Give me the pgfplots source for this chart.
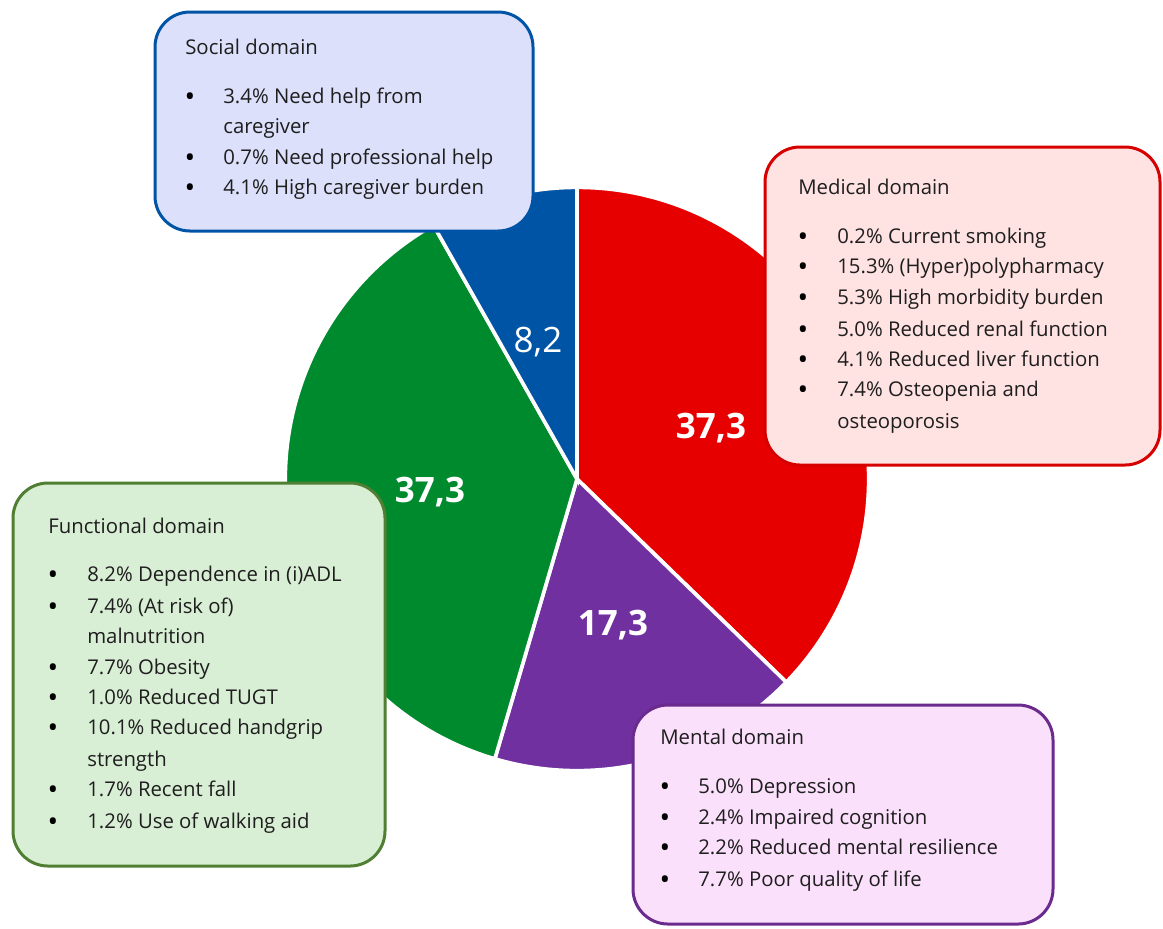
\documentclass[border=0pt]{standalone}
\usepackage{pgfplots}
\pgfplotsset{compat=1.18}
\usepackage{fontspec}
\setmainfont{Open Sans}
\definecolor{pieRed}{RGB}{230,0,0}
\definecolor{piePurple}{RGB}{112,48,160}
\definecolor{pieGreen}{RGB}{0,138,46}
\definecolor{pieBlue}{RGB}{0,84,166}
\definecolor{socFill}{RGB}{220,224,250}
\definecolor{socDraw}{RGB}{0,84,166}
\definecolor{medFill}{RGB}{255,226,226}
\definecolor{medDraw}{RGB}{214,0,0}
\definecolor{funFill}{RGB}{217,239,213}
\definecolor{funDraw}{RGB}{80,126,50}
\definecolor{menFill}{RGB}{251,224,251}
\definecolor{menDraw}{RGB}{106,42,142}
\definecolor{txt}{RGB}{30,30,30}
\tikzset{
  bt/.style={anchor=mid west, inner sep=0pt, text=txt, yshift=-1.2pt, font=\fontsize{12.2}{14}\selectfont},
  bu/.style={anchor=center, inner sep=0pt, text=black, yshift=-1.6pt, font=\fontsize{17}{18}\selectfont},
  pl/.style={anchor=center, inner sep=0pt, text=white},
}
\begin{document}
\begin{tikzpicture}
% pie values (percent)
\def\vMed{37.3}\def\vMen{17.3}\def\vFun{37.3}\def\vSoc{8.2}
\pgfmathsetmacro\tot{\vMed+\vMen+\vFun+\vSoc}
\pgfmathsetmacro\aA{90-360*\vMed/\tot}
\pgfmathsetmacro\aB{\aA-360*\vMen/\tot}
\pgfmathsetmacro\aC{\aB-360*\vFun/\tot}
\pgfmathsetmacro\aD{\aC-360*\vSoc/\tot}
\def\R{175pt}
\begin{axis}[scale only axis, width=697.8pt, height=556.8pt,
  xmin=0, xmax=1163, ymin=0, ymax=928, y dir=reverse, hide axis,
]
\path (axis cs:0,0) rectangle (axis cs:1163,928);
% pie sectors
\filldraw[fill=pieRed, draw=white, line width=2.2pt] (axis cs:577,479) -- ++(90:\R) arc[start angle=90, end angle=\aA, radius=\R] -- cycle;
\filldraw[fill=piePurple, draw=white, line width=2.2pt] (axis cs:577,479) -- ++(\aA:\R) arc[start angle=\aA, end angle=\aB, radius=\R] -- cycle;
\filldraw[fill=pieGreen, draw=white, line width=2.2pt] (axis cs:577,479) -- ++(\aB:\R) arc[start angle=\aB, end angle=\aC, radius=\R] -- cycle;
\filldraw[fill=pieBlue, draw=white, line width=2.2pt] (axis cs:577,479) -- ++(\aC:\R) arc[start angle=\aC, end angle=\aD, radius=\R] -- cycle;
\node[pl, font=\fontsize{21}{25}\selectfont\bfseries] at (axis cs:711,428) {37,3};
\node[pl, font=\fontsize{21}{25}\selectfont\bfseries] at (axis cs:430,492) {37,3};
\node[pl, font=\fontsize{21}{25}\selectfont\bfseries] at (axis cs:613,625) {17,3};
\node[pl, font=\fontsize{21}{25}\selectfont] at (axis cs:538,342) {8,2};
% Social box
\draw[rounded corners=21pt, line width=1.8pt, draw=socDraw, fill=socFill] (axis cs:155,12) rectangle (axis cs:533,231);
\node[bt] at (axis cs:185,48) {Social domain};
\node[bu] at (axis cs:190,97) {•};\node[bt] at (axis cs:223,97) {3.4\% Need help from};
\node[bt] at (axis cs:223,127) {caregiver};
\node[bu] at (axis cs:190,158) {•};\node[bt] at (axis cs:223,158) {0.7\% Need professional help};
\node[bu] at (axis cs:190,188) {•};\node[bt] at (axis cs:223,188) {4.1\% High caregiver burden};
% Medical box
\draw[rounded corners=21pt, line width=1.8pt, draw=medDraw, fill=medFill] (axis cs:765,147) rectangle (axis cs:1160,465);
\node[bt] at (axis cs:798,188) {Medical domain};
\node[bu] at (axis cs:803,237) {•};\node[bt] at (axis cs:837,237) {0.2\% Current smoking};
\node[bu] at (axis cs:803,267) {•};\node[bt] at (axis cs:837,267) {15.3\% (Hyper)polypharmacy};
\node[bu] at (axis cs:803,298) {•};\node[bt] at (axis cs:837,298) {5.3\% High morbidity burden};
\node[bu] at (axis cs:803,330) {•};\node[bt] at (axis cs:837,330) {5.0\% Reduced renal function};
\node[bu] at (axis cs:803,360) {•};\node[bt] at (axis cs:837,360) {4.1\% Reduced liver function};
\node[bu] at (axis cs:803,390) {•};\node[bt] at (axis cs:837,390) {7.4\% Osteopenia and};
\node[bt] at (axis cs:837,422) {osteoporosis};
% Functional box
\draw[rounded corners=21pt, line width=1.8pt, draw=funDraw, fill=funFill] (axis cs:13,483) rectangle (axis cs:385,866);
\node[bt] at (axis cs:48,527) {Functional domain};
\node[bu] at (axis cs:53,575) {•};\node[bt] at (axis cs:87,575) {8.2\% Dependence in (i)ADL};
\node[bu] at (axis cs:53,607) {•};\node[bt] at (axis cs:87,607) {7.4\% (At risk of)};
\node[bt] at (axis cs:87,637) {malnutrition};
\node[bu] at (axis cs:53,668) {•};\node[bt] at (axis cs:87,668) {7.7\% Obesity};
\node[bu] at (axis cs:53,698) {•};\node[bt] at (axis cs:87,698) {1.0\% Reduced TUGT};
\node[bu] at (axis cs:53,728) {•};\node[bt] at (axis cs:87,728) {10.1\% Reduced handgrip};
\node[bt] at (axis cs:87,760) {strength};
\node[bu] at (axis cs:53,790) {•};\node[bt] at (axis cs:87,790) {1.7\% Recent fall};
\node[bu] at (axis cs:53,822) {•};\node[bt] at (axis cs:87,822) {1.2\% Use of walking aid};
% Mental box
\draw[rounded corners=21pt, line width=1.8pt, draw=menDraw, fill=menFill] (axis cs:633,705) rectangle (axis cs:1053,924);
\node[bt] at (axis cs:660,738) {Mental domain};
\node[bu] at (axis cs:665,787) {•};\node[bt] at (axis cs:698,787) {5.0\% Depression};
\node[bu] at (axis cs:665,818) {•};\node[bt] at (axis cs:698,818) {2.4\% Impaired cognition};
\node[bu] at (axis cs:665,848) {•};\node[bt] at (axis cs:698,848) {2.2\% Reduced mental resilience};
\node[bu] at (axis cs:665,880) {•};\node[bt] at (axis cs:698,880) {7.7\% Poor quality of life};
\end{axis}
\end{tikzpicture}
\end{document}
